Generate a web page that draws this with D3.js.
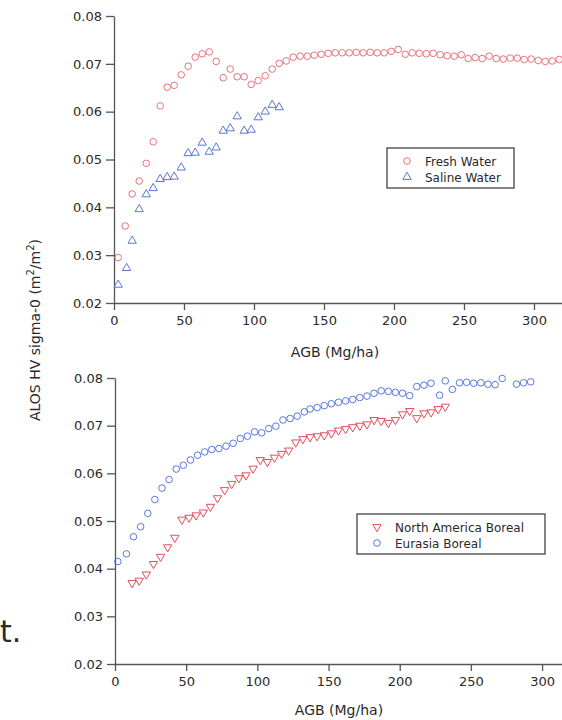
<!DOCTYPE html>
<html>
<head>
<meta charset="utf-8">
<script src="https://cdn.jsdelivr.net/npm/d3@7"></script>
<style>
  body { margin: 0; background: #fff; }
  svg text { font-family: "DejaVu Sans", sans-serif; fill: #2a2a2a; }
</style>
</head>
<body>
<div id="chart"></div>
<script>
// top panel: fresh vs saline water
const freshAgb = [3, 8, 13, 18, 23, 28, 33, 38, 43, 48, 53, 58, 63, 68, 73, 78, 83, 88, 93, 98,
    103, 108, 113, 118, 123, 128, 133, 138, 143, 148, 153, 158, 163, 168, 173, 178, 183, 188,
    193, 198, 203, 208, 213, 218, 223, 228, 233, 238, 243, 248, 253, 258, 263, 268, 273, 278,
    283, 288, 293, 298, 303, 308, 313, 318];
const freshSigma = [0.0295, 0.0361, 0.0428, 0.0455, 0.0492, 0.0537, 0.0612, 0.0651, 0.0655, 0.0677,
    0.0695, 0.0714, 0.0721, 0.0725, 0.0705, 0.0671, 0.0689, 0.0673, 0.0673, 0.0657,
    0.0665, 0.0675, 0.0689, 0.0701, 0.0706, 0.0714, 0.0716, 0.0716, 0.0718, 0.0720,
    0.0722, 0.0723, 0.0723, 0.0723, 0.0724, 0.0723, 0.0724, 0.0723, 0.0723, 0.0726,
    0.0730, 0.0720, 0.0723, 0.0722, 0.0721, 0.0722, 0.0719, 0.0717, 0.0716, 0.0719,
    0.0711, 0.0713, 0.0711, 0.0716, 0.0711, 0.0710, 0.0712, 0.0712, 0.0709, 0.0710,
    0.0707, 0.0705, 0.0706, 0.0709];
const salineAgb = [3, 9, 13, 18, 23, 28, 33, 38, 43, 48, 53, 58, 63, 68, 73, 78, 83, 88, 93, 98,
    103, 108, 113, 118];
const salineSigma = [0.0238, 0.0273, 0.0330, 0.0396, 0.0427, 0.0440, 0.0459, 0.0463, 0.0464, 0.0483,
    0.0513, 0.0514, 0.0535, 0.0516, 0.0525, 0.0560, 0.0565, 0.0590, 0.0560, 0.0562,
    0.0588, 0.0600, 0.0614, 0.0609];

// bottom panel: boreal forests
const naAgb = [12, 17, 22, 27, 32, 37, 42, 47, 52, 57, 62, 67, 72, 77, 82, 87, 92, 97, 102, 107,
    112, 117, 122, 127, 132, 137, 142, 147, 152, 157, 162, 167, 172, 177, 182, 187, 192, 197,
    202, 207, 212, 217, 222, 227, 232];
const naSigma = [0.0370, 0.0375, 0.0388, 0.0410, 0.0425, 0.0445, 0.0465, 0.0503, 0.0507, 0.0512,
    0.0518, 0.0530, 0.0548, 0.0565, 0.0578, 0.0590, 0.0596, 0.0610, 0.0628, 0.0624,
    0.0633, 0.0641, 0.0648, 0.0665, 0.0672, 0.0676, 0.0678, 0.0680, 0.0684, 0.0690,
    0.0693, 0.0697, 0.0700, 0.0703, 0.0712, 0.0710, 0.0706, 0.0712, 0.0724, 0.0731,
    0.0716, 0.0726, 0.0728, 0.0735, 0.0740];
const euAgb = [2, 8, 13, 18, 23, 28, 33, 38, 43, 48, 53, 58, 63, 68, 73, 78, 83, 88, 93, 98,
    103, 108, 113, 118, 123, 128, 133, 137, 142, 147, 152, 157, 162, 167, 172, 177, 182, 187,
    192, 197, 202, 207, 212, 217, 222, 228, 232, 237, 242, 247, 252, 257, 262, 267, 272,
    282, 287, 292];
const euSigma = [0.0415, 0.0431, 0.0467, 0.0488, 0.0516, 0.0545, 0.0569, 0.0587, 0.0609, 0.0617,
    0.0628, 0.0638, 0.0645, 0.0650, 0.0652, 0.0657, 0.0663, 0.0673, 0.0678, 0.0687,
    0.0685, 0.0694, 0.0699, 0.0712, 0.0715, 0.0720, 0.0729, 0.0735, 0.0738, 0.0742,
    0.0746, 0.0749, 0.0752, 0.0755, 0.0759, 0.0762, 0.0768, 0.0773, 0.0772, 0.0770,
    0.0768, 0.0763, 0.0782, 0.0785, 0.0789, 0.0764, 0.0794, 0.0776, 0.0790, 0.0791,
    0.0789, 0.0790, 0.0787, 0.0786, 0.0799, 0.0787, 0.0790, 0.0792];

const yTicks = [0.02, 0.03, 0.04, 0.05, 0.06, 0.07, 0.08];
const xTicks = [0, 50, 100, 150, 200, 250, 300];

const svg = d3.select("#chart").append("svg")
    .attr("width", 562)
    .attr("height", 720);

const circle = function (g, xs, ys, x, y, color) {
    g.selectAll(null)
        .data(d3.zip(xs, ys))
        .enter().append("circle")
        .attr("cx", function (d) { return x(d[0]); })
        .attr("cy", function (d) { return y(d[1]); })
        .attr("r", 3.3)
        .attr("fill", "none")
        .attr("stroke", color)
        .attr("stroke-width", 1);
};
const triangle = function (g, xs, ys, x, y, color, down) {
    g.selectAll(null)
        .data(d3.zip(xs, ys))
        .enter().append("path")
        .attr("d", d3.symbol(d3.symbolTriangle, 30))
        .attr("transform", function (d) {
            return "translate(" + x(d[0]) + "," + y(d[1]) + ")" + (down ? " rotate(180)" : "");
        })
        .attr("fill", "none")
        .attr("stroke", color)
        .attr("stroke-width", 1);
};

const drawPanel = function (p) {
    let x = d3.scaleLinear().domain([0, p.xMax]).range([p.left, 562]);
    let y = d3.scaleLinear().domain([0.02, 0.08]).range([p.bottom, p.top]);

    let xAxis = svg.append("g")
        .attr("transform", "translate(0," + p.bottom + ")")
        .call(d3.axisBottom(x).tickValues(xTicks).tickSize(7).tickSizeOuter(0).tickPadding(6));
    let yAxis = svg.append("g")
        .attr("transform", "translate(" + p.left + ",0)")
        .call(d3.axisLeft(y).tickValues(yTicks).tickFormat(d3.format(".2f")).tickSize(8).tickSizeOuter(0).tickPadding(4));
    [xAxis, yAxis].forEach(function (a) {
        a.selectAll("path, line").attr("stroke", "#555").attr("stroke-width", 1.3);
        a.selectAll("text").attr("font-size", 13).attr("fill", "#333");
    });

    svg.append("text")
        .attr("x", p.titleX)
        .attr("y", p.titleY)
        .attr("text-anchor", "middle")
        .attr("font-size", 14)
        .text("AGB (Mg/ha)");

    let g = svg.append("g");
    p.series.forEach(function (s) {
        if (s.shape === "circle") circle(g, s.xs, s.ys, x, y, s.color);
        else triangle(g, s.xs, s.ys, x, y, s.color, s.shape === "down");
    });

    // legend
    let lg = svg.append("g").attr("transform", "translate(" + p.legend[0] + "," + p.legend[1] + ")");
    lg.append("rect")
        .attr("width", p.legend[2])
        .attr("height", 40)
        .attr("fill", "#fff")
        .attr("stroke", "#333")
        .attr("stroke-width", 1.2);
    p.series.forEach(function (s, i) {
        let cy = 13 + i * 16;
        if (s.shape === "circle") {
            lg.append("circle").attr("cx", 20).attr("cy", cy).attr("r", 3.3)
                .attr("fill", "none").attr("stroke", s.color);
        } else {
            lg.append("path").attr("d", d3.symbol(d3.symbolTriangle, 30))
                .attr("transform", "translate(20," + cy + ")" + (s.shape === "down" ? " rotate(180)" : ""))
                .attr("fill", "none").attr("stroke", s.color);
        }
        lg.append("text").attr("x", 38).attr("y", cy + 4.5)
            .attr("font-size", 12).text(s.name);
    });
};

const fresh = { name: "Fresh Water", xs: freshAgb, ys: freshSigma, shape: "circle", color: "#e7727c" };
const saline = { name: "Saline Water", xs: salineAgb, ys: salineSigma, shape: "up", color: "#5a76d4" };
const northAm = { name: "North America Boreal", xs: naAgb, ys: naSigma, shape: "down", color: "#e24e5a" };
const eurasia = { name: "Eurasia Boreal", xs: euAgb, ys: euSigma, shape: "circle", color: "#5877df" };

drawPanel({
    left: 114, top: 16, bottom: 303, xMax: 320,
    titleX: 335, titleY: 357,
    series: [fresh, saline],
    legend: [387, 148, 127]
});
drawPanel({
    left: 115, top: 378, bottom: 664, xMax: 314,
    titleX: 339, titleY: 715,
    series: [northAm, eurasia],
    legend: [357, 514, 188]
});

// shared y axis title
const yt = svg.append("text")
    .attr("transform", "translate(40,330) rotate(-90)")
    .attr("text-anchor", "middle")
    .attr("font-size", 14);
yt.append("tspan").text("ALOS HV sigma-0 (m");
yt.append("tspan").attr("dy", -6).attr("font-size", 10).text("2");
yt.append("tspan").attr("dy", 6).text("/m");
yt.append("tspan").attr("dy", -6).attr("font-size", 10).text("2");
yt.append("tspan").attr("dy", 6).text(")");

// cropped fragment of surrounding page text
svg.append("text")
    .attr("x", 0)
    .attr("y", 642)
    .attr("font-size", 30)
    .attr("fill", "#222")
    .text("t.");
</script>
</body>
</html>
